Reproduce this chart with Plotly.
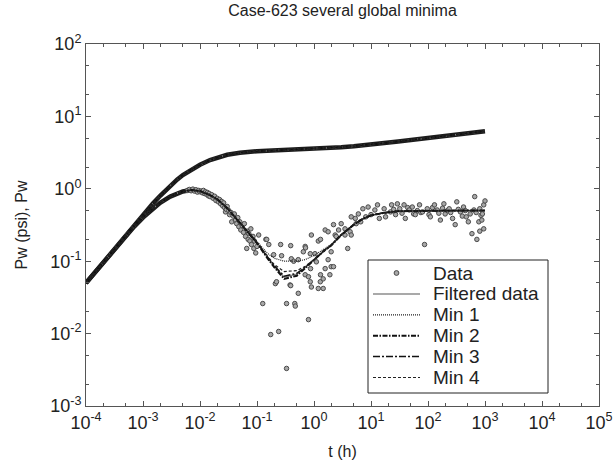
import plotly.graph_objects as go

# ---- data -------------------------------------------------------------
t_line = [1e-4, 1.5e-4, 2e-4, 3e-4, 5e-4, 7e-4, 1e-3, 1.5e-3, 2e-3, 3e-3, 4e-3, 5e-3, 7e-3,
          1e-2, 1.5e-2, 2e-2, 3e-2, 5e-2, 7e-2, 0.1, 0.15, 0.2, 0.3, 0.5, 0.7, 1, 1.5, 2, 3,
          5, 7, 10, 15, 20, 30, 50, 100, 200, 500, 1000]

pw_upper = [0.05, 0.073, 0.097, 0.143, 0.233, 0.32, 0.44, 0.63, 0.8, 1.1, 1.35, 1.55, 1.85,
            2.15, 2.5, 2.7, 2.95, 3.15, 3.25, 3.3, 3.35, 3.38, 3.42, 3.48, 3.52, 3.57, 3.63, 3.68, 3.76,
            3.88, 3.97, 4.08, 4.22, 4.32, 4.5, 4.72, 5.05, 5.4, 5.85, 6.25]

deriv_filtered = [0.05, 0.073, 0.096, 0.14, 0.22, 0.30, 0.40, 0.54, 0.64, 0.78, 0.87, 0.92, 0.96,
                  0.93, 0.82, 0.72, 0.54, 0.34, 0.245, 0.18, 0.115, 0.085, 0.06, 0.066, 0.082, 0.105, 0.14, 0.165, 0.23,
                  0.32, 0.38, 0.43, 0.46, 0.475, 0.49, 0.495, 0.5, 0.5, 0.5, 0.5]
deriv_min1 = [0.05, 0.073, 0.096, 0.14, 0.22, 0.30, 0.40, 0.54, 0.64, 0.78, 0.87, 0.92, 0.96,
              0.93, 0.82, 0.72, 0.55, 0.35, 0.26, 0.19, 0.13, 0.11, 0.1, 0.1, 0.105, 0.12, 0.145, 0.17, 0.235,
              0.32, 0.38, 0.43, 0.46, 0.475, 0.49, 0.495, 0.5, 0.5, 0.5, 0.5]
deriv_min2 = [0.05, 0.073, 0.096, 0.14, 0.22, 0.30, 0.40, 0.54, 0.64, 0.78, 0.87, 0.92, 0.96,
              0.93, 0.82, 0.72, 0.54, 0.34, 0.245, 0.178, 0.112, 0.083, 0.057, 0.063, 0.08, 0.104, 0.14, 0.165, 0.23,
              0.32, 0.38, 0.43, 0.46, 0.475, 0.49, 0.495, 0.5, 0.5, 0.5, 0.5]
deriv_min3 = [0.05, 0.073, 0.096, 0.14, 0.22, 0.30, 0.40, 0.54, 0.64, 0.78, 0.87, 0.92, 0.96,
              0.93, 0.82, 0.72, 0.54, 0.34, 0.245, 0.18, 0.116, 0.087, 0.062, 0.068, 0.083, 0.106, 0.14, 0.166, 0.23,
              0.32, 0.38, 0.43, 0.46, 0.475, 0.49, 0.495, 0.5, 0.5, 0.5, 0.5]
deriv_min4 = [0.05, 0.073, 0.096, 0.14, 0.22, 0.30, 0.40, 0.54, 0.64, 0.78, 0.87, 0.92, 0.96,
              0.93, 0.82, 0.72, 0.54, 0.34, 0.25, 0.185, 0.12, 0.09, 0.072, 0.074, 0.085, 0.105, 0.14, 0.165, 0.23,
              0.32, 0.38, 0.43, 0.46, 0.475, 0.49, 0.495, 0.5, 0.5, 0.5, 0.5]

# dense, low-noise early-time data (drawn as a thick band)
t_dense = [1e-4, 1.5e-4, 2e-4, 3e-4, 5e-4, 7e-4, 1e-3, 1.5e-3, 2e-3, 3e-3, 4e-3, 5e-3, 7e-3, 1e-2, 1.3e-2]
pw_dense = [0.05, 0.073, 0.096, 0.14, 0.22, 0.30, 0.40, 0.54, 0.64, 0.78, 0.87, 0.92, 0.96, 0.93, 0.86]

# scattered derivative data
data_t = [0.006, 0.0065, 0.007, 0.0075, 0.008, 0.0085, 0.009, 0.0095, 0.01,
          0.0105, 0.011, 0.0115, 0.012, 0.0125, 0.013, 0.0135, 0.014, 0.0145, 0.015, 0.016, 0.017, 0.018,
          0.019, 0.02, 0.021, 0.022, 0.023, 0.024, 0.025, 0.026, 0.027, 0.028, 0.029, 0.03,
          0.032, 0.033, 0.035, 0.036, 0.038, 0.04, 0.042, 0.044, 0.046, 0.048, 0.05, 0.052, 0.055, 0.058,
          0.06, 0.063, 0.066, 0.068, 0.07, 0.072, 0.075, 0.078, 0.08, 0.085, 0.088, 0.09, 0.095, 0.1,
          0.107, 0.126, 0.143, 0.148, 0.161, 0.174, 0.196, 0.21, 0.22, 0.24, 0.26, 0.27, 0.33, 0.33, 0.38,
          0.39, 0.39, 0.4, 0.44, 0.46, 0.47, 0.53, 0.53, 0.65, 0.7, 0.7, 0.71, 0.8, 0.8, 0.86, 0.86, 0.87,
          0.9, 0.9, 1.04, 1.1, 1.19, 1.19, 1.29, 1.3, 1.3, 1.45, 1.45, 1.57, 1.57, 1.77, 1.77, 1.9, 2.0, 2.0,
          2.2, 2.2, 2.35, 2.45, 2.7, 3.0, 3.5, 3.5, 3.9, 4.3, 4.5, 4.5, 5.3, 5.5, 6.0, 6.6, 7.2, 8.1, 8.9,
          10, 11.7, 13, 14, 17, 18, 22, 23, 25, 27, 29, 32, 35, 38, 40, 44, 47, 53, 56, 60, 65, 71, 75,
          80, 87, 97, 104, 110, 120, 130, 145, 155, 165, 180, 190, 200, 220, 235, 250, 270, 300, 320, 340,
          370, 400, 420, 450, 470, 510, 550, 590, 640, 660, 700, 720, 780, 810, 810, 850, 880, 900, 950, 950, 1000]
data_pw = [0.95, 0.98, 0.94, 0.99, 0.93, 0.97, 0.9, 0.95, 0.91,
           0.93, 0.88, 0.95, 0.86, 0.91, 0.84, 0.89, 0.8, 0.86, 0.78, 0.83, 0.74, 0.79,
           0.69, 0.74, 0.66, 0.71, 0.62, 0.67, 0.58, 0.64, 0.55, 0.48, 0.52, 0.57,
           0.5, 0.44, 0.47, 0.35, 0.42, 0.45, 0.37, 0.33, 0.4, 0.3, 0.35, 0.27, 0.31, 0.25,
           0.33, 0.22, 0.15, 0.26, 0.2, 0.24, 0.19, 0.28, 0.17, 0.22, 0.15, 0.19, 0.13, 0.16,
           0.23, 0.026, 0.2, 0.2, 0.17, 0.0097, 0.123, 0.049, 0.052, 0.0107, 0.17, 0.119, 0.026, 0.0033, 0.047,
           0.164, 0.046, 0.108, 0.1, 0.026, 0.024, 0.105, 0.036, 0.135, 0.16, 0.065, 0.153, 0.061, 0.0156, 0.127, 0.052, 0.079,
           0.23, 0.044, 0.127, 0.098, 0.19, 0.042, 0.052, 0.2, 0.065, 0.057, 0.042, 0.079, 0.27, 0.255, 0.105, 0.065, 0.135, 0.084,
           0.32, 0.084, 0.23, 0.22, 0.27, 0.33, 0.23, 0.28, 0.15, 0.255, 0.41, 0.23, 0.39, 0.33, 0.45, 0.35, 0.53, 0.41, 0.56,
           0.44, 0.51, 0.6, 0.39, 0.53, 0.41, 0.48, 0.6, 0.52, 0.44, 0.62, 0.53, 0.46, 0.6, 0.39, 0.55, 0.51, 0.56, 0.45, 0.44, 0.5, 0.6, 0.47,
           0.48, 0.17, 0.53, 0.44, 0.41, 0.55, 0.6, 0.51, 0.46, 0.37, 0.54, 0.62, 0.45, 0.5, 0.53, 0.47, 0.39, 0.32, 0.66, 0.52,
           0.48, 0.42, 0.56, 0.5, 0.41, 0.35, 0.45, 0.24, 0.51, 0.78, 0.47, 0.2, 0.35, 0.53, 0.26, 0.43, 0.37, 0.45, 0.6, 0.28, 0.68]

legend_labels = ["Data", "Filtered data", "Min 1", "Min 2", "Min 3", "Min 4"]

x_ticks = [1e-4, 1e-3, 1e-2, 1e-1, 1e0, 1e1, 1e2, 1e3, 1e4, 1e5]
x_ticktext = ["10<sup>-4</sup>", "10<sup>-3</sup>", "10<sup>-2</sup>", "10<sup>-1</sup>", "10<sup>0</sup>",
              "10<sup>1</sup>", "10<sup>2</sup>", "10<sup>3</sup>", "10<sup>4</sup>", "10<sup>5</sup>"]
y_ticks = [1e-3, 1e-2, 1e-1, 1e0, 1e1, 1e2]
y_ticktext = ["10<sup>-3</sup>", "10<sup>-2</sup>", "10<sup>-1</sup>", "10<sup>0</sup>", "10<sup>1</sup>", "10<sup>2</sup>"]

# ---- styles -----------------------------------------------------------
FONT = "Liberation Sans, Arial, Helvetica, sans-serif"
TXT = "#222"
MARKER = dict(symbol="circle", size=4.5, color="#a8a8a8", line=dict(color="#4a4a4a", width=1))
LINE_STYLES = [
    dict(color="#8c8c8c", width=1.5, dash="solid"),                    # Filtered data
    dict(color="#222", width=1.2, dash="1px,1px"),                     # Min 1
    dict(color="#111", width=2, dash="5px,1.5px,1.5px,1.5px"),         # Min 2
    dict(color="#111", width=1.5, dash="7px,2px,2px,2px"),             # Min 3
    dict(color="#222", width=1.2, dash="3px,2px"),                     # Min 4
]

ML, MR, MT, MB = 86, 16, 44, 63
PW, PH = 615.0 - ML - MR, 469.0 - MT - MB   # plot area size in px

fig = go.Figure()


def both(lower):
    return t_line + [None] + t_line, pw_upper + [None] + lower


# thick bands of dense data (upper Pw and early derivative)
fig.add_trace(go.Scatter(x=t_line, y=pw_upper, mode="lines", line=dict(color="#1c1c1c", width=4.5),
                         showlegend=False, hoverinfo="skip"))
fig.add_trace(go.Scatter(x=t_dense, y=pw_dense, mode="lines", line=dict(color="#1c1c1c", width=4.5),
                         showlegend=False, hoverinfo="skip"))

fig.add_trace(go.Scatter(x=data_t, y=data_pw, mode="markers", name=legend_labels[0], marker=MARKER))

for lower, name, st in zip([deriv_filtered, deriv_min1, deriv_min2, deriv_min3, deriv_min4],
                           legend_labels[1:], LINE_STYLES):
    xs, ys = both(lower)
    fig.add_trace(go.Scatter(x=xs, y=ys, mode="lines", name=name, line=st))

# ---- hand-made legend box (tight row spacing like the reference) ------
def px(v): return v / PW
def py(v): return v / PH

box_x0, box_x1 = px(368 - ML), px(548 - ML)
box_y0, box_y1 = py(406 - 393), py(406 - 260)
shapes = [dict(type="rect", xref="paper", yref="paper", x0=box_x0, x1=box_x1, y0=box_y0, y1=box_y1,
               line=dict(color="#222", width=1), fillcolor="white", layer="above")]
annotations = []
row_y0 = py(406 - 273)
row_step = py(20.9)
sample_x0, sample_x1 = box_x0 + px(5), box_x0 + px(52)
text_x = box_x0 + px(63)
for i, label in enumerate(legend_labels):
    yc = row_y0 - i * row_step
    if i == 0:
        cx = (sample_x0 + sample_x1) / 2
        r = 2.4
        shapes.append(dict(type="circle", xref="paper", yref="paper",
                           x0=cx - px(r), x1=cx + px(r), y0=yc - py(r), y1=yc + py(r),
                           fillcolor=MARKER["color"], line=dict(color="#4a4a4a", width=1), layer="above"))
    else:
        st = LINE_STYLES[i - 1]
        shapes.append(dict(type="line", xref="paper", yref="paper", x0=sample_x0, x1=sample_x1,
                           y0=yc, y1=yc, line=dict(color=st["color"], width=st["width"], dash=st["dash"]),
                           layer="above"))
    annotations.append(dict(text=label, xref="paper", yref="paper", x=text_x, y=yc,
                            xanchor="left", yanchor="middle", showarrow=False,
                            font=dict(size=19, color=TXT, family=FONT)))

axis_common = dict(type="log", showgrid=False, zeroline=False, showline=True, linecolor="#555",
                   linewidth=1, mirror="ticks", ticks="inside", ticklen=5, tickcolor="#555",
                   tickfont=dict(size=18, color=TXT, family=FONT), ticklabeloverflow="allow",
                   automargin=False,
                   minor=dict(ticks="inside", ticklen=3, tickcolor="#555", dtick="D2", showgrid=False))

fig.update_xaxes(range=[-4.0001, 5.0001], tickmode="array", tickvals=x_ticks, ticktext=x_ticktext,
                 title=dict(text="t (h)", font=dict(size=16, color=TXT, family=FONT), standoff=14),
                 **axis_common)
fig.update_yaxes(range=[-3.0001, 2.0001], tickmode="array", tickvals=y_ticks, ticktext=y_ticktext,
                 title=dict(text="Pw (psi), Pw", font=dict(size=16, color=TXT, family=FONT), standoff=18),
                 **axis_common)

fig.update_layout(
    width=615, height=469,
    margin=dict(l=ML, r=MR, t=MT, b=MB),
    paper_bgcolor="white", plot_bgcolor="white",
    font=dict(family=FONT, color=TXT),
    title=dict(text="Case-623 several global minima", x=(ML + PW / 2) / 615.0, xanchor="center",
               y=0.99, yanchor="top", font=dict(size=16, color=TXT, family=FONT)),
    showlegend=False,
    shapes=shapes,
    annotations=annotations,
)

fig.write_html("out.html")
